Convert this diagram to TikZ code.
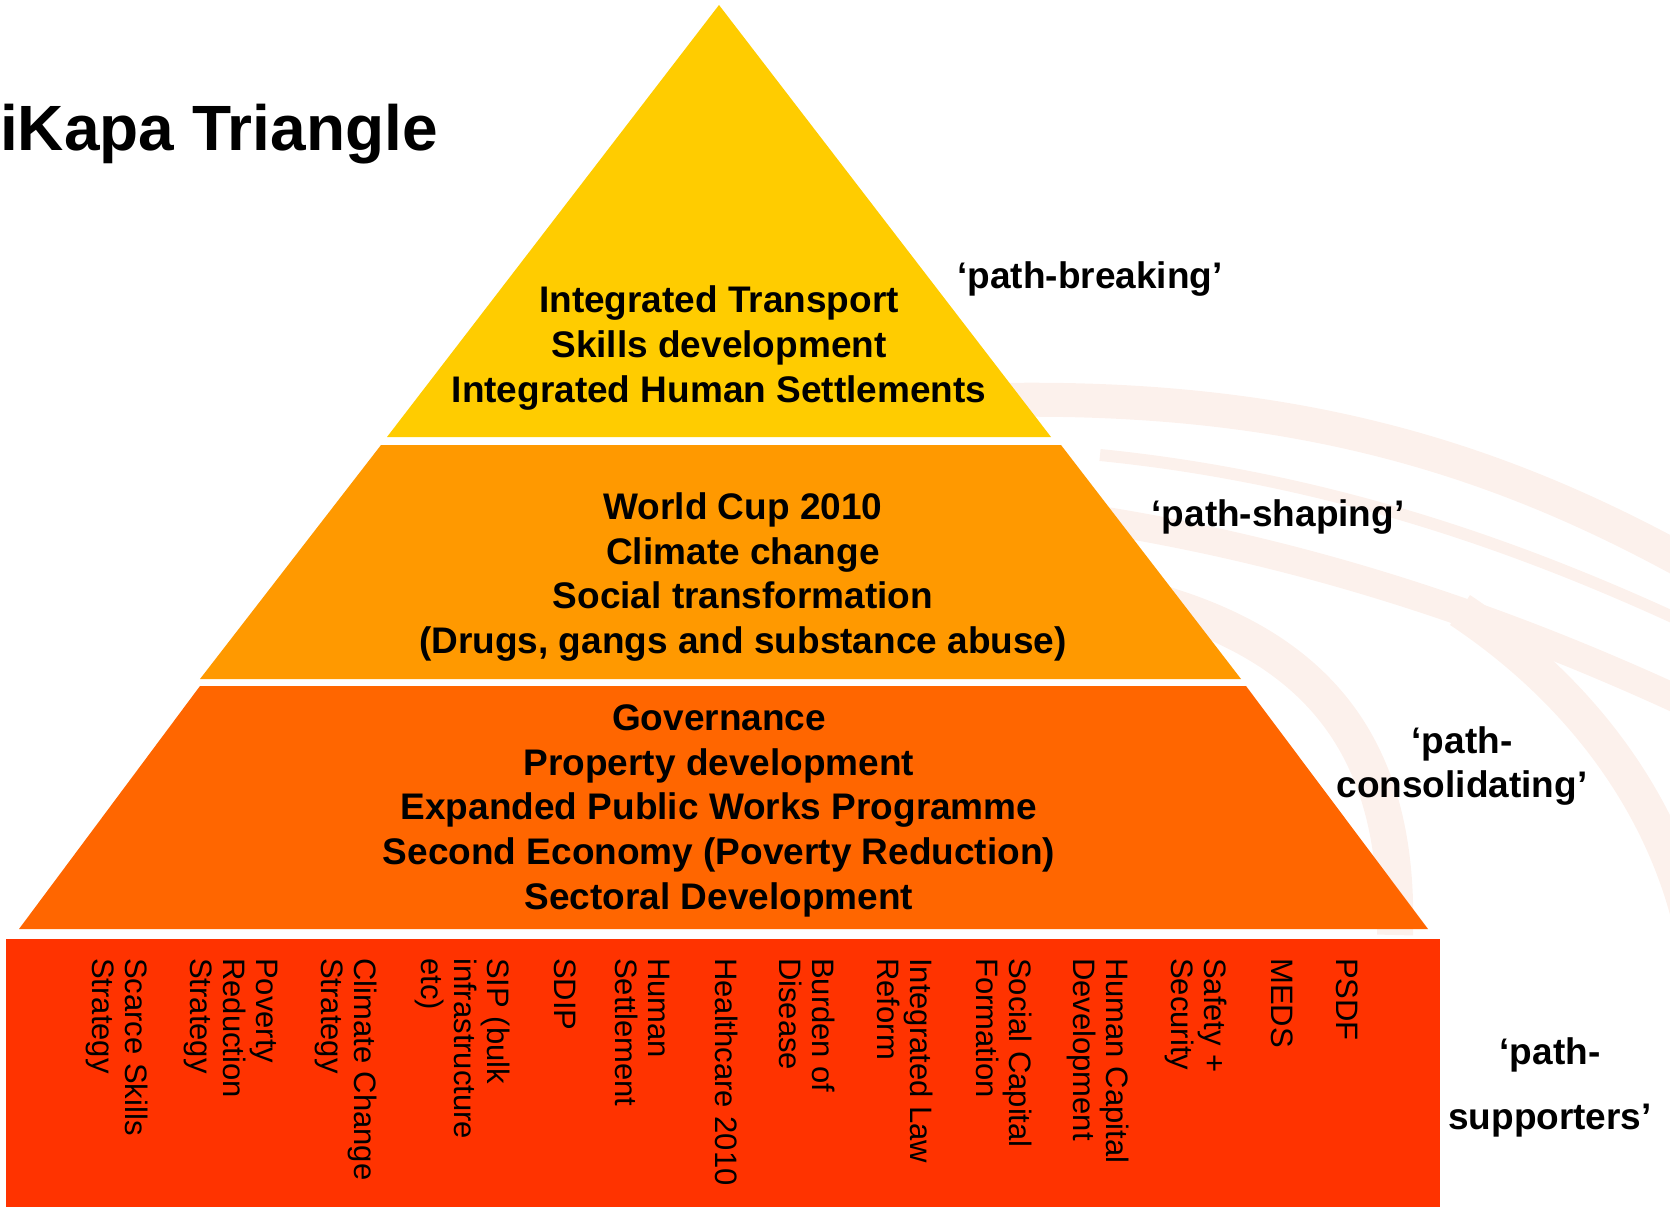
\documentclass[tikz,border=0pt]{standalone}
\usepackage{fontspec}
\setmainfont{Liberation Sans}
\definecolor{cyellow}{HTML}{FFCC00}
\definecolor{cmid}{HTML}{FF9900}
\definecolor{clow}{HTML}{FF6600}
\definecolor{cbase}{HTML}{FF3300}
\definecolor{cswirl}{HTML}{FCF1EC}
\tikzset{
  swirl/.style={draw=cswirl, line cap=butt},
  tiertext/.style={align=center, inner sep=0pt, font=\fontsize{37}{45}\selectfont\bfseries},
  pathlabel/.style={align=center, inner sep=0pt, font=\fontsize{37}{44}\selectfont\bfseries},
  support/.style={rotate=-90, anchor=north west, align=left, inner sep=0pt,
                  font=\fontsize{31}{33}\selectfont},
}
\begin{document}
\begin{tikzpicture}[x=1pt,y=-1pt]
\useasboundingbox (0,0) rectangle (1670,1207);
\begin{scope}
\clip (0,0) rectangle (1670,1207);
\draw[swirl, line width=34] (1000,400) .. controls (1300,395) and (1500,460) .. (1690,565);
\draw[swirl, line width=12] (1100,455) .. controls (1350,480) and (1550,560) .. (1690,625);
\draw[swirl, line width=28] (1100,520) .. controls (1350,560) and (1550,640) .. (1690,705);
\draw[swirl, line width=36] (1150,600) .. controls (1330,650) and (1400,760) .. (1395,935);
\draw[swirl, line width=36] (1460,610) .. controls (1580,690) and (1660,800) .. (1690,920);
\end{scope}
% pyramid tiers
\fill[cyellow] (719,5) -- (1051,437) -- (387,437) -- cycle;
\fill[cmid] (381,445) -- (1061,445) -- (1241,679) -- (200,679) -- cycle;
\fill[clow] (200,686) -- (1246,686) -- (1428,929) -- (19,929) -- cycle;
\fill[cbase] (6,939) rectangle (1440,1207);
% title
\node[anchor=base west, inner sep=0pt, font=\fontsize{64}{70}\selectfont\bfseries] (title) at (0,150) {iKapa Triangle};
% tier texts (base anchor = baseline of the last line)
\node[tiertext, anchor=base] (top) at (719,402) {Integrated Transport\\Skills development\\Integrated Human Settlements};
\node[tiertext, anchor=base, font=\fontsize{37}{44.5}\selectfont\bfseries] (mid) at (743,653) {World Cup 2010\\Climate change\\Social transformation\\(Drugs, gangs and substance abuse)};
\node[tiertext, anchor=base, font=\fontsize{37}{44.6}\selectfont\bfseries] (low) at (719,909) {Governance\\Property development\\Expanded Public Works Programme\\Second Economy (Poverty Reduction)\\Sectoral Development};
% labels
\node[pathlabel, anchor=base] (pb) at (1090,288) {‘path-breaking’};
\node[pathlabel, anchor=base] (ps) at (1278,526) {‘path-shaping’};
\node[pathlabel, anchor=base] (pc) at (1462,797) {‘path-\\consolidating’};
\node[pathlabel, anchor=base, font=\fontsize{37}{64.5}\selectfont\bfseries] (psu) at (1550,1129) {‘path-\\supporters’};
% supporters
\node[support] (s1) at (148,958) {Scarce Skills\\Strategy};
\node[support] (s2) at (278,958) {Poverty\\Reduction\\Strategy};
\node[support] (s3) at (377,958) {Climate Change\\Strategy};
\node[support] (s4) at (510,958) {SIP (bulk\\infrastructure\\etc)};
\node[support] (s5) at (576,958) {SDIP};
\node[support] (s6) at (670,958) {Human\\Settlement};
\node[support] (s7) at (738,958) {Healthcare 2010};
\node[support] (s8) at (835,958) {Burden of\\Disease};
\node[support] (s9) at (933,958) {Integrated Law\\Reform};
\node[support] (s10) at (1032,958) {Social Capital\\Formation};
\node[support] (s11) at (1129,958) {Human Capital\\Development};
\node[support] (s12) at (1227,958) {Safety +\\Security};
\node[support] (s13) at (1293,958) {MEDS};
\node[support] (s14) at (1358,958) {PSDF};
\end{tikzpicture}
\end{document}
